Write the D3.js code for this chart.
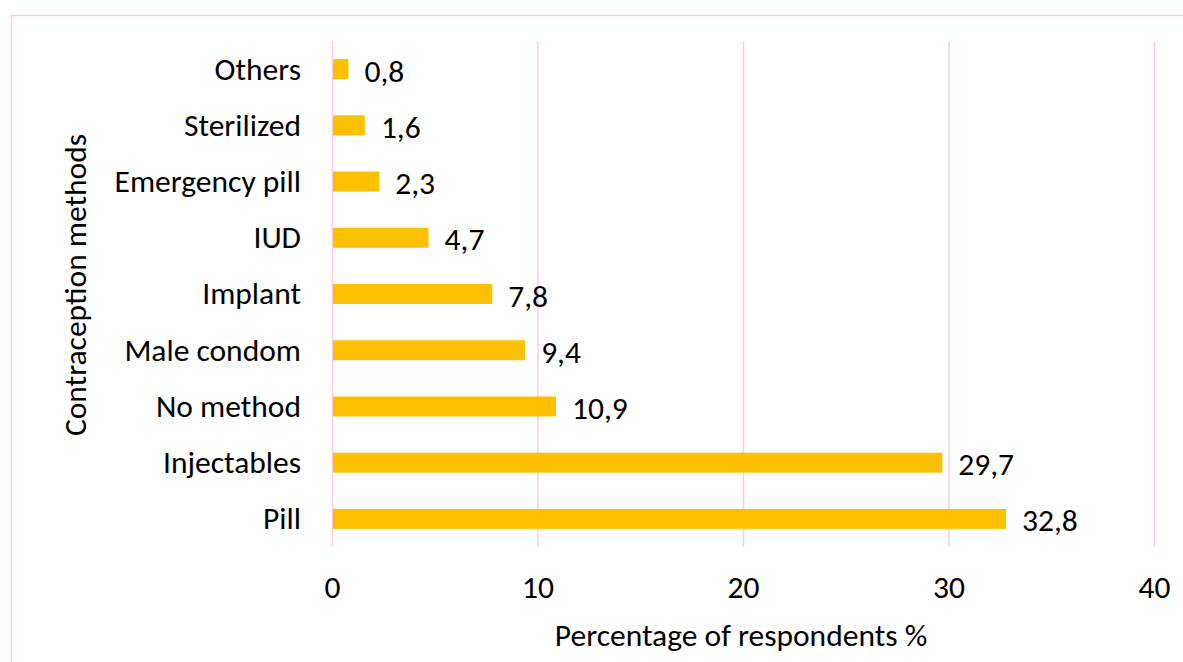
<!DOCTYPE html>
<html>
<head>
<meta charset="utf-8">
<script src="https://cdn.jsdelivr.net/npm/d3@7"></script>
<style>
  html, body { margin: 0; padding: 0; background: #fff; }
  svg { display: block; }
  text { font-family: Carlito, Calibri, Lato, "Open Sans", sans-serif; fill: #000; }
</style>
</head>
<body>
<svg id="chart" width="1183" height="662"></svg>
<script>
const categories = ["Others", "Sterilized", "Emergency pill", "IUD", "Implant", "Male condom", "No method", "Injectables", "Pill"];
const values = [0.8, 1.6, 2.3, 4.7, 7.8, 9.4, 10.9, 29.7, 32.8];
const xTicks = [0, 10, 20, 30, 40];
const xTitle = "Percentage of respondents %";
const yTitle = "Contraception methods";

const svg = d3.select("#chart");
const W = 1183, H = 662;
const fs = 31.5;

// outer chart border (pink), extends past right/bottom edges
svg.append("rect")
  .attr("x", 11.5).attr("y", 15.5)
  .attr("width", W + 20).attr("height", H + 20)
  .attr("fill", "none").attr("stroke", "#F9CDE9").attr("stroke-width", 1.5);

const plot = { left: 332, right: 1154, top: 41, bottom: 547 };

const x = d3.scaleLinear().domain([0, 40]).range([plot.left, plot.right]);
const y = d3.scaleBand().domain(categories).range([plot.top, plot.bottom]).paddingInner(0.645).paddingOuter(0.3225);

// gridlines
svg.append("g").selectAll("line").data(xTicks).join("line")
  .attr("x1", d => x(d) + 0.5).attr("x2", d => x(d) + 0.5)
  .attr("y1", plot.top).attr("y2", plot.bottom)
  .attr("stroke", "#F9CDE9").attr("stroke-width", 1.5);

// x axis tick labels
const xAxis = d3.axisBottom(x).tickValues(xTicks).tickSize(0).tickPadding(0).tickFormat(d3.format("d"));
const gx = svg.append("g").attr("transform", `translate(0, ${plot.bottom})`).call(xAxis);
gx.select(".domain").remove();
gx.selectAll("text").attr("dy", null).attr("y", 51).style("font-size", fs + "px")
  .attr("font-family", null).attr("fill", "#000");

// y axis category labels
const yAxis = d3.axisLeft(y).tickSize(0).tickPadding(31);
const gy = svg.append("g").attr("transform", `translate(${plot.left}, 0)`).call(yAxis);
gy.select(".domain").remove();
gy.selectAll("text").attr("dy", "0.33em").style("font-size", fs + "px")
  .attr("font-family", null).attr("fill", "#000");

// bars
svg.append("g").selectAll("rect").data(categories).join("rect")
  .attr("x", x(0) + 1)
  .attr("y", d => y(d))
  .attr("width", (d, i) => x(values[i]) - x(0) - 1)
  .attr("height", y.bandwidth())
  .attr("fill", "#FFC000");

// data labels
const fmt = v => d3.format(".1f")(v).replace(".", ",");
svg.append("g").selectAll("text").data(categories).join("text")
  .attr("x", (d, i) => x(values[i]) + 16)
  .attr("y", d => y(d) + y.bandwidth() / 2)
  .attr("dy", "0.4em")
  .style("font-size", fs + "px")
  .text((d, i) => fmt(values[i]));

// axis titles
svg.append("text")
  .attr("x", 741).attr("y", 635).attr("dy", "0.35em")
  .attr("text-anchor", "middle").style("font-size", fs + "px")
  .text(xTitle);

svg.append("text")
  .attr("transform", `translate(75, 285) rotate(-90)`)
  .attr("dy", "0.35em")
  .attr("text-anchor", "middle").style("font-size", fs + "px")
  .text(yTitle);
</script>
</body>
</html>
